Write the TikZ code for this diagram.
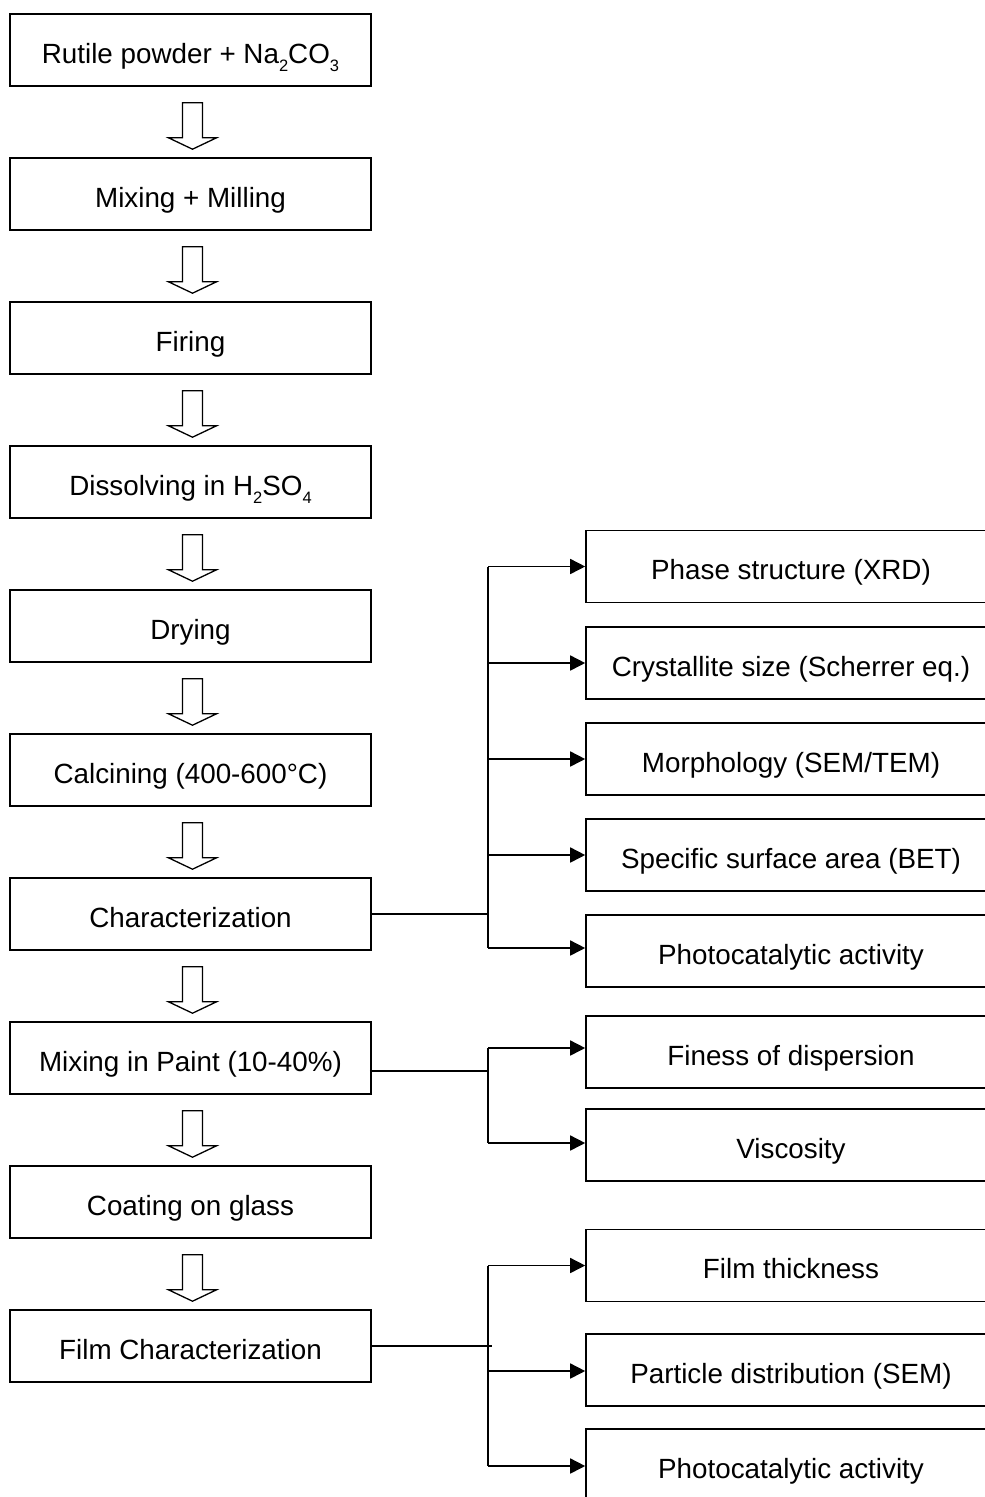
\documentclass[tikz,border=0pt]{standalone}
\usepackage{fontspec}
\setmainfont{Liberation Sans}
\usetikzlibrary{calc,arrows.meta}
\newcommand\chemsub[1]{\raisebox{-8pt}{\fontsize{16.5}{17}\selectfont #1}}
\begin{document}
\begin{tikzpicture}[x=1pt,y=-1pt,
  font=\fontsize{27.8}{33}\selectfont,
  lbox/.style={draw,line width=1.6pt,minimum width=361pt,minimum height=72pt,inner sep=0pt,text height=28pt,text depth=2pt},
  rbox/.style={draw,line width=1.6pt,minimum width=410pt,minimum height=72pt,inner sep=0pt,text height=28pt,text depth=2pt},
  hollow/.style={draw,line width=1.3pt,line join=miter,fill=white},
  conn/.style={line width=1.6pt},
  tip/.style={conn,-{Triangle[length=15pt,width=15pt]}}
]
\useasboundingbox (0,0) rectangle (985,1497);
\fill[white] (0,0) rectangle (985,1497);
\clip (0,0) rectangle (985,1497);

% main column
\node[lbox] (b1)  at (190.5,50)   {Rutile powder + Na\chemsub{2}CO\chemsub{3}};
\node[lbox] (b2)  at (190.5,194)  {Mixing + Milling};
\node[lbox] (b3)  at (190.5,338)  {Firing};
\node[lbox] (b4)  at (190.5,482)  {Dissolving in H\chemsub{2}SO\chemsub{4}};
\node[lbox] (b5)  at (190.5,626)  {Drying};
\node[lbox] (b6)  at (190.5,770)  {Calcining (400-600°C)};
\node[lbox] (b7)  at (190.5,914)  {Characterization};
\node[lbox] (b8)  at (190.5,1058) {Mixing in Paint (10-40\%)};
\node[lbox] (b9)  at (190.5,1202) {Coating on glass};
\node[lbox] (b10) at (190.5,1346) {Film Characterization};

% hollow arrows
\foreach \a/\b in {b1/b2,b2/b3,b3/b4,b4/b5,b5/b6,b6/b7,b7/b8,b8/b9,b9/b10}{
  \draw[hollow] ($(\a.south)+(-8,16)$) -- ($(\a.south)+(12,16)$)
     -- ($(\a.south)+(12,51)$) -- ($(\a.south)+(26,51)$)
     -- ($(\b.north)+(2,-8)$)
     -- ($(\a.south)+(-22,51)$) -- ($(\a.south)+(-8,51)$) -- cycle;
}

% right column
\node[rbox] (r1)  at (791,566.5) {Phase structure (XRD)};
\node[rbox] (r2)  at (791,663)   {Crystallite size (Scherrer eq.)};
\node[rbox] (r3)  at (791,759)   {Morphology (SEM/TEM)};
\node[rbox] (r4)  at (791,855)   {Specific surface area (BET)};
\node[rbox] (r5)  at (791,951)   {Photocatalytic activity};
\node[rbox] (r6)  at (791,1052)  {Finess of dispersion};
\node[rbox] (r7)  at (791,1145)  {Viscosity};
\node[rbox] (r8)  at (791,1265.5){Film thickness};
\node[rbox] (r9)  at (791,1370)  {Particle distribution (SEM)};
\node[rbox] (r10) at (791,1465)  {Photocatalytic activity};

% branch 1
\coordinate (j1) at (488,914);
\draw[conn] (b7.east) -- (j1);
\draw[conn] (j1 |- r1.west) -- ($(j1 |- r5.west)+(0,-3)$);
\foreach \r in {r1,r2,r3,r4}{
  \draw[tip] (j1 |- \r.west) -- (\r.west);
}
\draw[tip] ($(j1 |- r5.west)+(0,-3)$) -- ($(r5.west)+(0,-3)$);

% branch 2
\coordinate (j2) at (488,1071);
\draw[conn] ($(b8.east)+(-2,13)$) -- (j2);
\draw[conn] ($(j2 |- r6.west)+(0,-4)$) -- ($(j2 |- r7.west)+(0,-2)$);
\draw[tip] ($(j2 |- r6.west)+(0,-4)$) -- ($(r6.west)+(0,-4)$);
\draw[tip] ($(j2 |- r7.west)+(0,-2)$) -- ($(r7.west)+(0,-2)$);

% branch 3
\coordinate (j3) at (488,1346);
\draw[conn] (b10.east) -- ($(j3)+(4,0)$);
\draw[conn] (j3 |- r8.west) -- ($(j3 |- r10.west)+(0,1)$);
\draw[tip] (j3 |- r8.west) -- (r8.west);
\draw[tip] ($(j3 |- r9.west)+(0,1)$) -- ($(r9.west)+(0,1)$);
\draw[tip] ($(j3 |- r10.west)+(0,1)$) -- ($(r10.west)+(0,1)$);
\end{tikzpicture}
\end{document}
